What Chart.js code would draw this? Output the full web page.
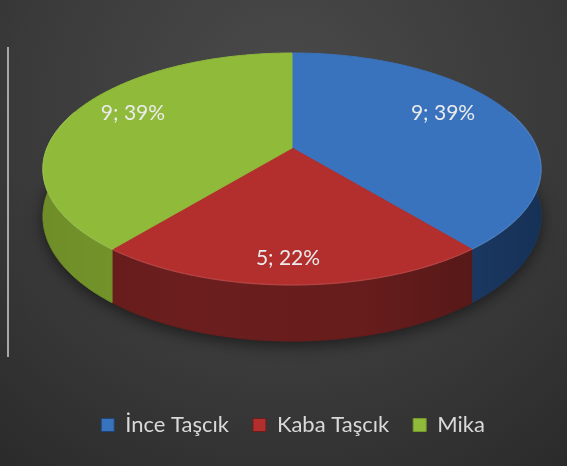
<!DOCTYPE html>
<html>
<head>
<meta charset="utf-8">
<script src="https://cdn.jsdelivr.net/npm/chart.js@4.4.1/dist/chart.umd.min.js"></script>
<style>
  html, body { margin: 0; padding: 0; background: #2e2e2e; }
  canvas { display: block; }
</style>
</head>
<body>
<canvas id="pie3d" width="567" height="466"></canvas>
<script>
// Mineral counts
const categories = ['İnce Taşcık', 'Kaba Taşcık', 'Mika'];
const counts = [9, 5, 9];

// Slice colours: top face and side wall
const topColors = ['#3a73bd', '#b22f2e', '#8fba3a'];
const sideColors = ['#1f4477', '#6b1e1d', '#76972b'];

// Perspective view of the disc: centre, half-axes, foreshortening, wall depth
const VIEW = { cx: 292, cy: 148, ax: 245, ay: 85.4, k: 0.181, depth: 46 };

function project(theta, r, drop) {
  const X = r * Math.cos(theta);
  const Y = r * Math.sin(theta);
  const w = 1 - VIEW.k * Y;
  return {
    x: VIEW.cx + VIEW.ax * X / w,
    y: (VIEW.cy + VIEW.ay * Y) / w + (drop ? VIEW.depth / w : 0)
  };
}

function rimPath(ctx, a0, a1, drop, moveFirst) {
  const n = Math.max(2, Math.ceil(Math.abs(a1 - a0) / 0.01));
  for (let i = 0; i <= n; i++) {
    const t = a0 + (a1 - a0) * i / n;
    const p = project(t, 1, drop);
    if (i === 0 && moveFirst) ctx.moveTo(p.x, p.y); else ctx.lineTo(p.x, p.y);
  }
}

const backdrop = {
  id: 'backdrop',
  beforeDraw(chart) {
    const { ctx, width, height } = chart;
    ctx.save();
    const g = ctx.createRadialGradient(width * 0.5, height * 0.2, 0, width * 0.5, height * 0.25, width * 0.85);
    g.addColorStop(0, '#4a4a4a');
    g.addColorStop(0.55, '#3a3a3a');
    g.addColorStop(1, '#282828');
    ctx.fillStyle = g;
    ctx.fillRect(0, 0, width, height);
    ctx.fillStyle = '#a8a8a8';
    ctx.fillRect(7, 47, 2, 310);
    ctx.restore();
  }
};

const pie3d = {
  id: 'pie3d',
  beforeDatasetsDraw(chart) {
    const ctx = chart.ctx;
    const arcs = chart.getDatasetMeta(0).data;
    const lo = -0.35, hi = Math.PI + 0.35;

    ctx.save();

    // soft shadow under the base
    ctx.save();
    ctx.shadowColor = 'rgba(0,0,0,0.55)';
    ctx.shadowBlur = 16;
    ctx.shadowOffsetY = 4;
    ctx.beginPath();
    rimPath(ctx, 0, Math.PI * 2, true, true);
    ctx.closePath();
    ctx.fillStyle = '#1a1a1a';
    ctx.fill();
    ctx.restore();

    // side walls
    arcs.forEach((el, i) => {
      const s = Math.max(el.startAngle, lo);
      const e = Math.min(el.endAngle, hi);
      if (e <= s) return;
      ctx.beginPath();
      rimPath(ctx, s, e, false, true);
      rimPath(ctx, e, s, true, false);
      ctx.closePath();
      ctx.fillStyle = sideColors[i];
      ctx.fill();
      ctx.strokeStyle = sideColors[i];
      ctx.lineWidth = 0.8;
      ctx.stroke();
      // darken toward the right-hand silhouette
      const gh = ctx.createLinearGradient(VIEW.cx - VIEW.ax, 0, VIEW.cx + VIEW.ax * 1.02, 0);
      gh.addColorStop(0, 'rgba(0,0,0,0.06)');
      gh.addColorStop(0.3, 'rgba(0,0,0,0.0)');
      gh.addColorStop(0.65, 'rgba(0,0,0,0.05)');
      gh.addColorStop(1, 'rgba(0,0,0,0.28)');
      ctx.fillStyle = gh;
      ctx.fill();
    });

    // top faces
    arcs.forEach((el, i) => {
      const c = project(0, 0, false);
      ctx.beginPath();
      ctx.moveTo(c.x, c.y);
      rimPath(ctx, el.startAngle, el.endAngle, false, false);
      ctx.closePath();
      ctx.fillStyle = topColors[i];
      ctx.fill();
      ctx.strokeStyle = topColors[i];
      ctx.lineWidth = 1;
      ctx.stroke();
    });

    // subtle bevel along the front rim
    arcs.forEach((el) => {
      const s = Math.max(el.startAngle, lo);
      const e = Math.min(el.endAngle, hi);
      if (e <= s) return;
      ctx.beginPath();
      rimPath(ctx, s, e, false, true);
      ctx.strokeStyle = 'rgba(255,255,255,0.1)';
      ctx.lineWidth = 1.4;
      ctx.stroke();
    });

    // value labels
    const values = chart.data.datasets[0].data;
    const total = values.reduce((a, b) => a + b, 0);
    ctx.font = '21px Lato, "Open Sans", sans-serif';
    ctx.fillStyle = '#ebebeb';
    ctx.textAlign = 'center';
    ctx.textBaseline = 'middle';
    arcs.forEach((el, i) => {
      const mid = (el.startAngle + el.endAngle) / 2;
      const f = 0.7 + 0.2 * Math.max(0, Math.sin(mid));
      const p = project(mid, f, false);
      const pct = Math.round(values[i] / total * 100);
      ctx.fillText(values[i] + '; ' + pct + '%', p.x - 4, p.y - 10);
    });

    ctx.restore();
    return false;
  }
};

new Chart(document.getElementById('pie3d'), {
  type: 'pie',
  data: {
    labels: categories,
    datasets: [{
      data: counts,
      backgroundColor: topColors,
      borderColor: sideColors,
      borderWidth: 1
    }]
  },
  options: {
    responsive: false,
    animation: false,
    layout: { padding: { left: 19, bottom: 20 } },
    plugins: {
      tooltip: { enabled: false },
      legend: {
        position: 'bottom',
        labels: {
          color: '#d9d9d9',
          font: { family: 'Lato', size: 22 },
          boxWidth: 13,
          boxHeight: 13,
          padding: 24
        }
      }
    }
  },
  plugins: [backdrop, pie3d]
});
</script>
</body>
</html>
